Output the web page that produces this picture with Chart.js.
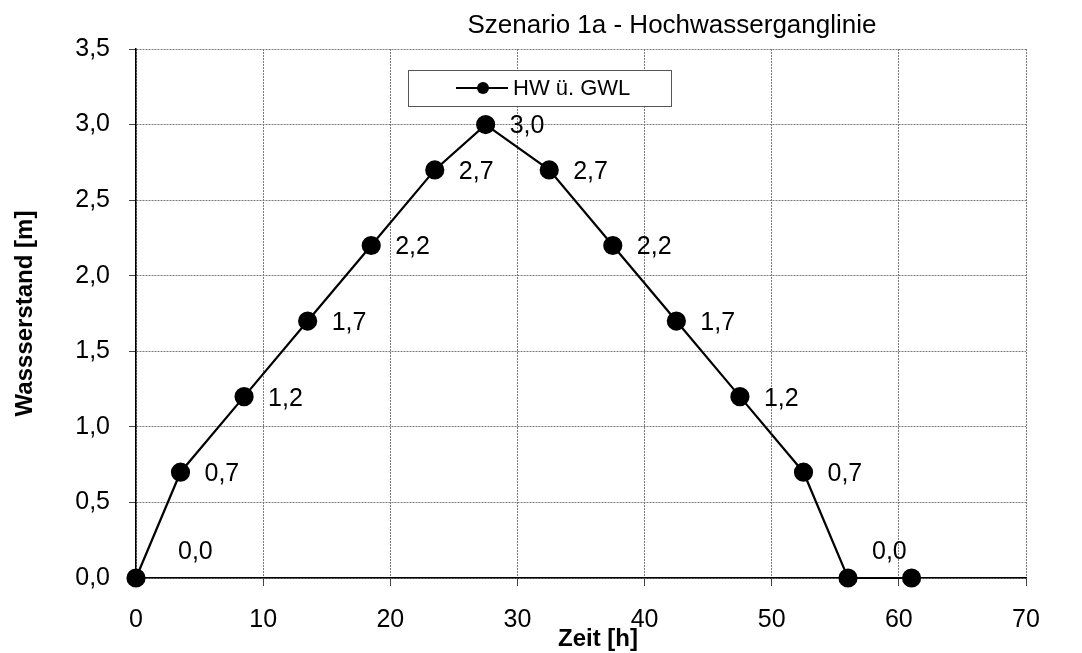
<!DOCTYPE html>
<html>
<head>
<meta charset="utf-8">
<script src="https://cdn.jsdelivr.net/npm/chart.js@4"></script>
<style>
  html, body { margin: 0; padding: 0; background: #fff; }
  #wrap { width: 1082px; height: 653px; position: relative; }
</style>
</head>
<body>
<div id="wrap"><canvas id="hw_chart"></canvas></div>
<script>
const zeitH = [0, 3.5, 8.5, 13.5, 18.5, 23.5, 27.5, 32.5, 37.5, 42.5, 47.5, 52.5, 56, 61];
const wasserstand = [0, 0.7, 1.2, 1.7, 2.2, 2.7, 3.0, 2.7, 2.2, 1.7, 1.2, 0.7, 0, 0];
const yTicks = [0, 0.5, 1, 1.5, 2, 2.5, 3, 3.5];
const xTicks = [0, 10, 20, 30, 40, 50, 60, 70];
const seriesName = 'HW ü. GWL';
const chartTitle = 'Szenario 1a - Hochwasserganglinie';

const FONT = '"Liberation Sans", Arial, sans-serif';
const komma = v => Number(v).toFixed(1).replace('.', ',');

// labels next to the points, like the Excel original
const pointLabels = {
  id: 'pointLabels',
  afterDatasetsDraw(chart) {
    const ctx = chart.ctx;
    const meta = chart.getDatasetMeta(0);
    ctx.save();
    ctx.font = '25px ' + FONT;
    ctx.fillStyle = '#000';
    ctx.textBaseline = 'middle';
    ctx.textAlign = 'left';
    meta.data.forEach((pt, i) => {
      if (i === zeitH.length - 1) return;
      let dx = 24, dy = 2;
      if (i === 0) { dx = 42; dy = -26; }
      if (i === zeitH.length - 2) { dx = 24; dy = -26; }
      ctx.fillText(komma(wasserstand[i]), pt.x + dx, pt.y + dy);
    });
    ctx.restore();
  }
};

// title, x-axis title + legend box drawn at Excel positions
const extras = {
  id: 'extras',
  afterDraw(chart) {
    const ctx = chart.ctx;
    const area = chart.chartArea;
    ctx.save();
    ctx.fillStyle = '#000';
    ctx.font = '26px ' + FONT;
    ctx.textAlign = 'center';
    ctx.textBaseline = 'middle';
    ctx.fillText(chartTitle, 672, 26);

    ctx.font = 'bold 24px ' + FONT;
    ctx.fillText('Zeit [h]', (area.left + area.right) / 2 + 17, 639);

    // legend
    ctx.fillStyle = '#fff';
    ctx.fillRect(408.5, 70.5, 263, 36);
    ctx.strokeStyle = '#555';
    ctx.lineWidth = 1;
    ctx.strokeRect(408.5, 70.5, 263, 36);
    ctx.strokeStyle = '#000';
    ctx.lineWidth = 2;
    ctx.beginPath();
    ctx.moveTo(456, 88);
    ctx.lineTo(508, 88);
    ctx.stroke();
    ctx.beginPath();
    ctx.arc(483, 88, 6, 0, Math.PI * 2);
    ctx.fillStyle = '#000';
    ctx.fill();
    ctx.font = '22px ' + FONT;
    ctx.textAlign = 'left';
    ctx.fillText(seriesName, 513, 89);
    ctx.restore();
  }
};

function drawHochwasser(el) {
  if (!el) return;

  const data = {
    datasets: [{
      label: seriesName,
      data: zeitH.map((x, i) => ({ x: x, y: wasserstand[i] })),
      borderColor: '#000',
      backgroundColor: '#000',
      borderWidth: 2.2,
      pointRadius: 8.5,
      pointHoverRadius: 8.5,
      pointBackgroundColor: '#000',
      pointBorderColor: '#000',
      tension: 0,
      fill: false,
      clip: false
    }]
  };

  const config = {
    type: 'scatter',
    data: data,
    options: {
      responsive: false,
      animation: false,
      showLine: true,
      layout: { padding: { top: 49, right: 56, left: 0, bottom: 0 } },
      scales: {
        x: {
          type: 'linear',
          min: 0,
          max: 70,
          afterBuildTicks: s => { s.ticks = xTicks.map(v => ({ value: v })); },
          afterFit: s => { s.height = 75; },
          grid: { color: '#7a7a7a', lineWidth: 1, tickLength: 8, tickColor: '#444' },
          border: { display: true, color: '#000', width: 1.5, dash: [2, 1] },
          ticks: {
            color: '#000',
            font: { family: FONT, size: 25 },
            padding: 19,
            maxRotation: 0
          },
          title: { display: false }
        },
        y: {
          type: 'linear',
          min: 0,
          max: 3.5,
          afterBuildTicks: s => { s.ticks = yTicks.map(v => ({ value: v })); },
          afterFit: s => { s.width = 136; },
          grid: { color: '#7a7a7a', lineWidth: 1, tickLength: 7, tickColor: '#444' },
          border: { display: true, color: '#000', width: 1.5, dash: [2, 1] },
          ticks: {
            color: '#000',
            font: { family: FONT, size: 25 },
            padding: 19,
            callback: v => komma(v)
          },
          title: {
            display: true,
            text: 'Wassserstand [m]',
            color: '#000',
            font: { family: FONT, size: 24, weight: 'bold' },
            padding: { top: 11, bottom: 0 }
          }
        }
      },
      plugins: {
        legend: { display: false },
        title: { display: false },
        tooltip: { enabled: false }
      }
    },
    plugins: [pointLabels, extras]
  };

  new Chart(el, config);
}

const cv = document.getElementById('hw_chart');
cv.width = 1082;
cv.height = 653;
drawHochwasser(cv);
</script>
</body>
</html>
